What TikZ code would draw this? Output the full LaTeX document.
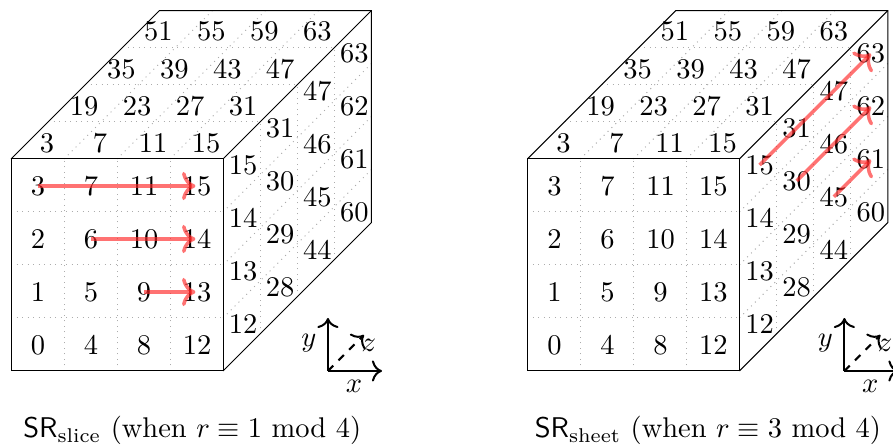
\documentclass[tikz,border=0pt]{standalone}
\usepackage{amsmath,amssymb}
\usepackage{xcolor,tikz}
\usetikzlibrary{arrows.meta,positioning,calc}

\newcommand{\statecube}[2]{%
\begin{scope}[shift={(#2,0)}]
\coordinate (#1a) at (0,0); \coordinate (#1b) at (4,0);
\coordinate (#1c) at (4,4); \coordinate (#1d) at (0,4);
\coordinate (#1e) at (2.8,2.8); % depth of the cube
\coordinate (#1g) at ($(#1c)+(#1e)$); \coordinate (#1h) at ($(#1d)+(#1e)$);
\coordinate (#1k) at ($(#1b)+(#1e)$);
% grid lines
\foreach \s in {1,2,3} {
  \draw[grid] (\s,0) -- (\s,4); \draw[grid] (0,\s) -- (4,\s);
  \draw[grid] (\s,4) -- ++(#1e);
  \draw[grid] (4,\s) -- ++(#1e);
  \draw[grid] ($(0,4)+0.7*(\s,\s)$) -- ++(4,0);
  \draw[grid] ($(4,0)+0.7*(\s,\s)$) -- ++(0,4);
}
\draw[edge] (#1a) rectangle (#1c);
\draw[edge] (#1d) -- (#1h) -- (#1g) -- (#1k) -- (#1b);
\draw[edge] (#1c) -- (#1g);
% labels
\foreach \i in {0,...,3} \foreach \j in {0,...,3} {
  \pgfmathtruncatemacro{\v}{4*\i+\j}
  \node[num] (#1f\v) at (\i+0.51,\j+0.49) {\v};
}
\foreach \i in {0,...,3} \foreach \k in {0,...,3} {
  \pgfmathtruncatemacro{\v}{3+4*\i+16*\k}
  \node[num] (#1t\v) at (\i+0.68+0.7*\k,4.3+0.7*\k) {\v};
}
\foreach \j in {0,...,3} \foreach \k in {0,...,3} {
  \pgfmathtruncatemacro{\v}{12+\j+16*\k}
  \node[num] (#1r\v) at (4.38+0.7*\k,0.887+\j+0.7*\k) {\v};
}
% axes
\coordinate (#1o) at (5.98,0); \coordinate (#1x) at (7,0);
\coordinate (#1y) at (5.98,1); \coordinate (#1z) at (6.66,0.68);
\draw[axis] (#1o) -- (#1x); \draw[axis] (#1o) -- (#1y);
\draw[axis,dashed] (#1o) -- (#1z);
\node[num] (#1xl) at (6.47,-0.3) {$x$};
\node[num] (#1yl) at (5.62,0.53) {$y$};
\node[num] (#1zl) at (6.75,0.49) {$z$};
\end{scope}}

\begin{document}
\begin{tikzpicture}[
  x=21.2pt,y=21.2pt,
  num/.style={inner sep=0pt,scale=1.14},
  grid/.style={gray!65,thin,dash pattern=on .4pt off 1.8pt},
  edge/.style={black,thin},
  axis/.style={-{To[scale=1.2]},thick},
  arr/.style={-{To[scale=1.15]},draw=red!85!white,opacity=.65,line width=1.4pt}]
\useasboundingbox (-0.208,-1.453) rectangle (16.642,7);
\statecube{s}{0}
\statecube{h}{9.745}
\node[num] (capslice) at (3.42,-1.13) {$\mathsf{SR}_{\text{slice}}$ (when $r\equiv 1$ mod $4$)};
\node[num] (capsheet) at (13.15,-1.13) {$\mathsf{SR}_{\text{sheet}}$ (when $r\equiv 3$ mod $4$)};
\draw[arr] (sf3.center) -- ($(sf15.center)+(-.03,0)$);
\draw[arr] (sf6.center) -- ($(sf14.center)+(-.03,0)$);
\draw[arr] (sf9.center) -- ($(sf13.center)+(-.03,0)$);
\draw[arr] (hr15.center) -- (hr63.center);
\draw[arr] (hr30.center) -- (hr62.center);
\draw[arr] (hr45.center) -- (hr61.center);
\end{tikzpicture}
\end{document}
